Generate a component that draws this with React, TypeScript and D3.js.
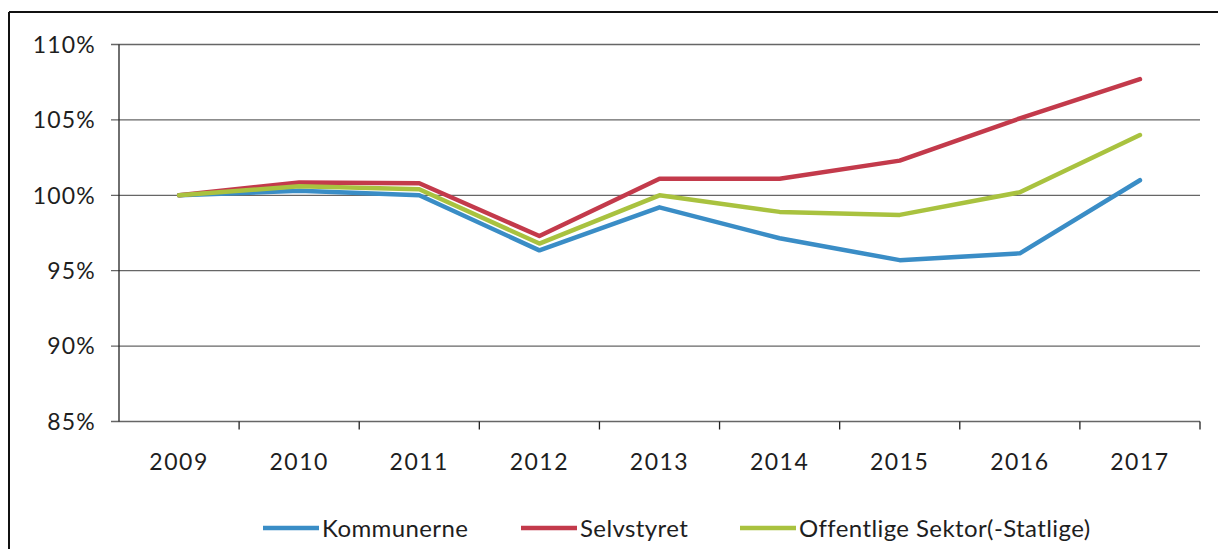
import React from 'react';
import * as d3 from 'd3';

// years on the x axis
const years = ['2009', '2010', '2011', '2012', '2013', '2014', '2015', '2016', '2017'];

// index values in percent
const kommunerne = [100, 100.3, 100.0, 96.35, 99.2, 97.15, 95.7, 96.15, 101.0];
const selvstyret = [100, 100.85, 100.8, 97.3, 101.1, 101.1, 102.3, 105.1, 107.7];
const offentlige = [100, 100.6, 100.4, 96.8, 100.0, 98.9, 98.7, 100.2, 104.0];

const yTicks = [85, 90, 95, 100, 105, 110];

const seriesNames = ['Kommunerne', 'Selvstyret', 'Offentlige Sektor(-Statlige)'];
const seriesColors = ['#3a8dc6', '#c33a4b', '#a9c23f'];

const W = 1218;
const H = 549;
const FONT = 'Lato, "Open Sans", sans-serif';

export default function App() {
  const left = 119;
  const right = 1200;
  const top = 44.5;
  const bottom = 421.5;

  const x = d3.scaleBand<string>().domain(years).range([left, right]);
  const y = d3.scaleLinear().domain([85, 110]).range([bottom, top]);

  const line = d3
    .line<number>()
    .x((_, i) => (x(years[i]) ?? 0) + x.bandwidth() / 2)
    .y(d => y(d));

  const allSeries = [kommunerne, selvstyret, offentlige];

  // legend positions (line start) for each item
  const legendX = [263, 521, 740];
  const legendY = 528;

  return (
    <svg
      width={W}
      height={H}
      style={{ position: 'absolute', left: 0, top: 0, background: '#fff' }}
    >
      {/* outer frame (left + top only are visible in the scan) */}
      <line x1={9} y1={12} x2={W} y2={12} stroke="#111" strokeWidth={2} />
      <line x1={9} y1={12} x2={9} y2={H} stroke="#111" strokeWidth={2} />

      {/* gridlines */}
      {yTicks.map(t => (
        <line
          key={t}
          x1={left - 8}
          x2={right}
          y1={y(t)}
          y2={y(t)}
          stroke="#666"
          strokeWidth={1.3}
        />
      ))}

      {/* y axis */}
      <line x1={left} x2={left} y1={top} y2={bottom} stroke="#222" strokeWidth={1.3} />
      {yTicks.map(t => (
        <text
          key={t}
          x={96}
          y={y(t)}
          dy="0.36em"
          textAnchor="end"
          fontFamily={FONT}
          fontSize={23}
          letterSpacing={1.2}
          fill="#1e1e1e"
        >
          {t}%
        </text>
      ))}

      {/* x axis ticks at band edges */}
      {years.map(yr => (
        <line
          key={yr}
          x1={(x(yr) ?? 0) + x.bandwidth()}
          x2={(x(yr) ?? 0) + x.bandwidth()}
          y1={bottom}
          y2={bottom + 8}
          stroke="#222"
          strokeWidth={1.3}
        />
      ))}
      {years.map(yr => (
        <text
          key={yr}
          x={(x(yr) ?? 0) + x.bandwidth() / 2}
          y={462}
          dy="0.36em"
          textAnchor="middle"
          fontFamily={FONT}
          fontSize={23}
          letterSpacing={1.5}
          fill="#1e1e1e"
        >
          {yr}
        </text>
      ))}

      {/* series lines */}
      {allSeries.map((s, i) => (
        <path
          key={seriesNames[i]}
          d={line(s) || ''}
          fill="none"
          stroke={seriesColors[i]}
          strokeWidth={4.5}
          strokeLinejoin="round"
          strokeLinecap="round"
        />
      ))}

      {/* legend */}
      {seriesNames.map((name, i) => (
        <g key={name}>
          <line
            x1={legendX[i]}
            x2={legendX[i] + 56}
            y1={legendY}
            y2={legendY}
            stroke={seriesColors[i]}
            strokeWidth={4.5}
          />
          <text
            x={legendX[i] + 59}
            y={legendY}
            dy="0.36em"
            fontFamily={FONT}
            fontSize={24}
            letterSpacing={0.4}
            fill="#1e1e1e"
          >
            {name}
          </text>
        </g>
      ))}
    </svg>
  );
}
